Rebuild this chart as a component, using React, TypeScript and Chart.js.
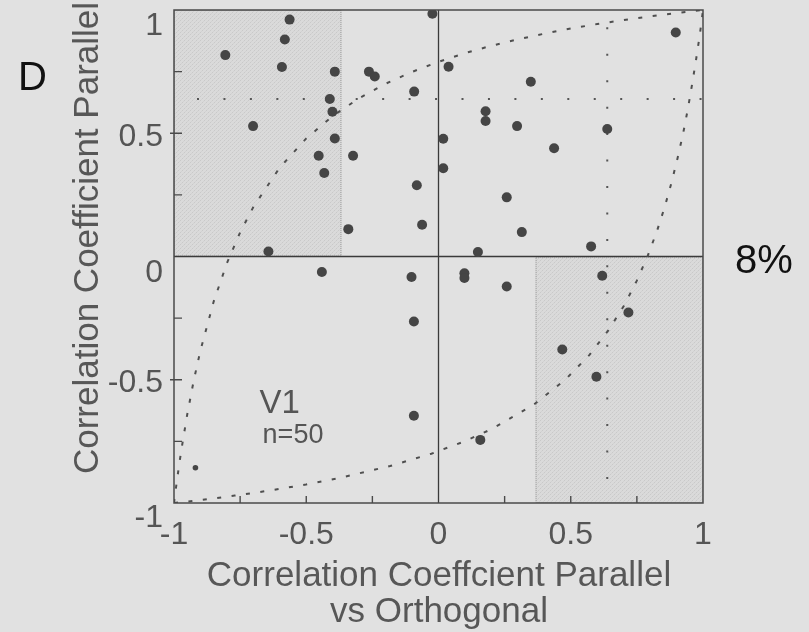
import { useEffect, useRef } from "react";
import { Chart, registerables } from "chart.js";

Chart.register(...registerables);

// Per-cell correlation coefficients (parallel vs orthogonal, parallel)
const cellX = [
  -0.563, -0.581, -0.806, -0.592, -0.392, -0.411, -0.401, -0.701, -0.392, -0.453,
  -0.432, -0.643, -0.341, -0.023, -0.263, -0.241, -0.092, 0.038, 0.178, 0.178,
  0.297, 0.018, -0.323, 0.018, -0.082, 0.258, -0.062, 0.315, 0.149, 0.897,
  0.349, 0.638, 0.437, 0.577, -0.441, -0.919, -0.102, -0.093, -0.093, 0.098,
  0.098, 0.258, 0.158, 0.619, 0.718, 0.468, 0.597,
];
const cellY = [
  0.961, 0.88, 0.817, 0.769, 0.75, 0.639, 0.587, 0.529, 0.479, 0.409,
  0.339, 0.02, 0.111, 0.985, 0.75, 0.73, 0.669, 0.77, 0.589, 0.55,
  0.529, 0.478, 0.409, 0.358, 0.289, 0.24, 0.129, 0.099, 0.018, 0.909,
  0.709, 0.517, 0.439, 0.041, -0.063, -0.857, -0.083, -0.264, -0.646, -0.068,
  -0.087, -0.122, -0.744, -0.078, -0.227, -0.377, -0.488,
];

// Boundary curve (upper branch); the lower branch is its mirror about y = x
const boundaryX = [
  -1, -0.995, -0.99, -0.98, -0.97, -0.95, -0.925, -0.9, -0.85, -0.8, -0.75, -0.7,
  -0.6, -0.5, -0.4, -0.3, -0.2, -0.1, 0, 0.1, 0.2, 0.3, 0.4, 0.5, 0.6, 0.7, 0.8,
  0.9, 1,
];
const boundaryY = [
  -1, -0.958, -0.918, -0.841, -0.77, -0.641, -0.501, -0.381, -0.183, -0.027, 0.098,
  0.201, 0.361, 0.479, 0.57, 0.642, 0.701, 0.749, 0.79, 0.825, 0.855, 0.881, 0.904,
  0.925, 0.943, 0.959, 0.974, 0.988, 1,
];

// Significance criteria
const criterionLevel = 0.639; // dotted reference lines
const criterionX = 0.638;
const shadeEdge = 0.367; // shaded quadrant boundary

const xTickValues = [-1, -0.5, 0, 0.5, 1];
const xTickLabels = ["-1", "-0.5", "0", "0.5", "1"];
const yTickValues = [1, 0.5, 0, -0.5, -1];
const yTickLabels = ["1", "0.5", "0", "-0.5", "-1"];
const minorTicks = [-0.75, -0.5, -0.25, 0.25, 0.5, 0.75];

const FONT = '"Liberation Sans", Arial, Helvetica, sans-serif';
const BG = "#e1e1e1";

function makeStipple(ctx: CanvasRenderingContext2D) {
  const c = document.createElement("canvas");
  c.width = 4;
  c.height = 4;
  const p = c.getContext("2d")!;
  p.fillStyle = "#dadada";
  p.fillRect(0, 0, 4, 4);
  p.fillStyle = "#c9c9c9";
  [[0, 0], [2, 2]].forEach(([a, b]) => p.fillRect(a, b, 1, 1));
  p.fillStyle = "#d2d2d2";
  [[1, 3], [3, 1]].forEach(([a, b]) => p.fillRect(a, b, 1, 1));
  return ctx.createPattern(c, "repeat")!;
}

const figurePlugin = {
  id: "figureDecor",
  beforeDraw(chart: any) {
    const { ctx, chartArea: a, scales } = chart;
    const x = scales.x;
    const y = scales.y;
    ctx.save();
    ctx.fillStyle = BG;
    ctx.fillRect(0, 0, chart.width, chart.height);
    // shaded quadrants
    const bands = [
      [-1, -shadeEdge, 0, 1],
      [shadeEdge, 1, -1, 0],
    ];
    ctx.fillStyle = makeStipple(ctx);
    bands.forEach(([x0, x1, y0, y1]) => {
      const l = x.getPixelForValue(x0);
      const r = x.getPixelForValue(x1);
      const t = y.getPixelForValue(y1);
      const b = y.getPixelForValue(y0);
      ctx.fillRect(l, t, r - l, b - t);
    });
    ctx.strokeStyle = "#9a9a9a";
    ctx.lineWidth = 1;
    ctx.setLineDash([1, 1]);
    bands.forEach(([x0, x1, y0, y1]) => {
      const l = x.getPixelForValue(x0);
      const r = x.getPixelForValue(x1);
      const t = y.getPixelForValue(y1);
      const b = y.getPixelForValue(y0);
      ctx.strokeRect(l + 0.5, t + 0.5, r - l - 1, b - t - 1);
    });
    ctx.setLineDash([]);
    // zero lines
    ctx.strokeStyle = "#3a3a3a";
    ctx.lineWidth = 1.3;
    ctx.beginPath();
    ctx.moveTo(x.getPixelForValue(0), a.top);
    ctx.lineTo(x.getPixelForValue(0), a.bottom);
    ctx.moveTo(a.left, y.getPixelForValue(0));
    ctx.lineTo(a.right, y.getPixelForValue(0));
    ctx.stroke();
    ctx.restore();
  },
  afterDraw(chart: any) {
    const { ctx, chartArea: a, scales } = chart;
    const x = scales.x;
    const y = scales.y;
    ctx.save();
    // frame
    ctx.strokeStyle = "#4a4a4a";
    ctx.lineWidth = 1.5;
    ctx.strokeRect(a.left, a.top, a.right - a.left, a.bottom - a.top);
    // inward ticks
    ctx.lineWidth = 1.4;
    ctx.beginPath();
    minorTicks.forEach((v) => {
      const py = y.getPixelForValue(v);
      const out = Math.abs(v) === 0.5 ? 4 : 0;
      ctx.moveTo(a.left - out, py);
      ctx.lineTo(a.left + 8, py);
      const px = x.getPixelForValue(v);
      ctx.moveTo(px, a.bottom);
      ctx.lineTo(px, a.bottom - 7);
    });
    ctx.stroke();
    // tick labels
    ctx.fillStyle = "#555";
    ctx.font = `32px ${FONT}`;
    ctx.textBaseline = "alphabetic";
    ctx.textAlign = "center";
    xTickValues.forEach((v, i) => {
      ctx.fillText(xTickLabels[i], x.getPixelForValue(v), a.bottom + 41);
    });
    ctx.textAlign = "right";
    const yLabelDrop: Record<string, number> = { "1": 25, "0.5": 13, "0": 25, "-0.5": 12, "-1": 24 };
    yTickValues.forEach((v, i) => {
      ctx.fillText(yTickLabels[i], a.left - 11, y.getPixelForValue(v) + yLabelDrop[yTickLabels[i]]);
    });
    // axis titles
    ctx.fillStyle = "#575757";
    ctx.font = `35px ${FONT}`;
    ctx.textAlign = "center";
    ctx.fillText("Correlation Coeffcient Parallel", 439, 586);
    ctx.fillText("vs Orthogonal", 439, 622);
    ctx.save();
    ctx.translate(98, 238);
    ctx.rotate(-Math.PI / 2);
    ctx.fillText("Correlation Coefficient Parallel", 0, 0);
    ctx.restore();
    // in-plot annotation
    ctx.textAlign = "left";
    ctx.fillStyle = "#555";
    ctx.font = `33px ${FONT}`;
    ctx.fillText("V1", x.getPixelForValue(-0.677), y.getPixelForValue(-0.635));
    ctx.font = `27px ${FONT}`;
    ctx.fillText("n=50", x.getPixelForValue(-0.665), y.getPixelForValue(-0.757));
    // panel letter and percentage
    ctx.fillStyle = "#111";
    ctx.font = `40px ${FONT}`;
    ctx.fillText("D", 18, 90);
    ctx.fillText("8%", 735, 273);
    ctx.restore();
  },
};

export default function App() {
  const canvasRef = useRef<HTMLCanvasElement | null>(null);

  useEffect(() => {
    document.body.style.margin = "0";
    document.body.style.background = BG;
    const canvas = canvasRef.current;
    if (!canvas) return;

    const cells = cellX.map((v, i) => ({ x: v, y: cellY[i] }));
    const upper = boundaryX.map((v, i) => ({ x: v, y: boundaryY[i] }));
    const lower = boundaryY.map((v, i) => ({ x: v, y: boundaryX[i] }));

    const curveStyle = {
      showLine: true,
      pointRadius: 0,
      borderColor: "#4f4f4f",
      borderWidth: 2,
      borderDash: [4, 10.5],
      tension: 0,
      fill: false,
    };
    const dotStyle = {
      showLine: true,
      pointRadius: 0,
      borderColor: "#555",
      borderWidth: 2,
      borderDash: [2, 24.45],
      tension: 0,
      fill: false,
    };

    const chart = new Chart(canvas, {
      type: "scatter",
      data: {
        datasets: [
          {
            data: cells,
            backgroundColor: "#454545",
            borderColor: "#454545",
            borderWidth: 0,
            pointRadius: (c: any) => (c.raw && c.raw.x < -0.9 ? 2.8 : 5),
          },
          { ...curveStyle, data: upper },
          { ...curveStyle, data: lower },
          {
            ...dotStyle,
            borderDashOffset: 3.45,
            data: [
              { x: -1, y: criterionLevel },
              { x: 1, y: criterionLevel },
            ],
          },
          {
            ...dotStyle,
            borderDashOffset: 9.15,
            data: [
              { x: criterionX, y: 1 },
              { x: criterionX, y: -1 },
            ],
          },
        ] as any,
      },
      options: {
        animation: false,
        responsive: false,
        events: [],
        layout: { padding: { left: 174, top: 10, right: 106, bottom: 129 } },
        scales: {
          x: { type: "linear", min: -1, max: 1, display: false },
          y: { type: "linear", min: -1, max: 1, display: false },
        },
        plugins: { legend: { display: false }, tooltip: { enabled: false } },
      },
      plugins: [figurePlugin],
    });

    return () => chart.destroy();
  }, []);

  return (
    <div style={{ width: 809, height: 632, background: BG }}>
      <canvas ref={canvasRef} width={809} height={632} style={{ display: "block" }} />
    </div>
  );
}
